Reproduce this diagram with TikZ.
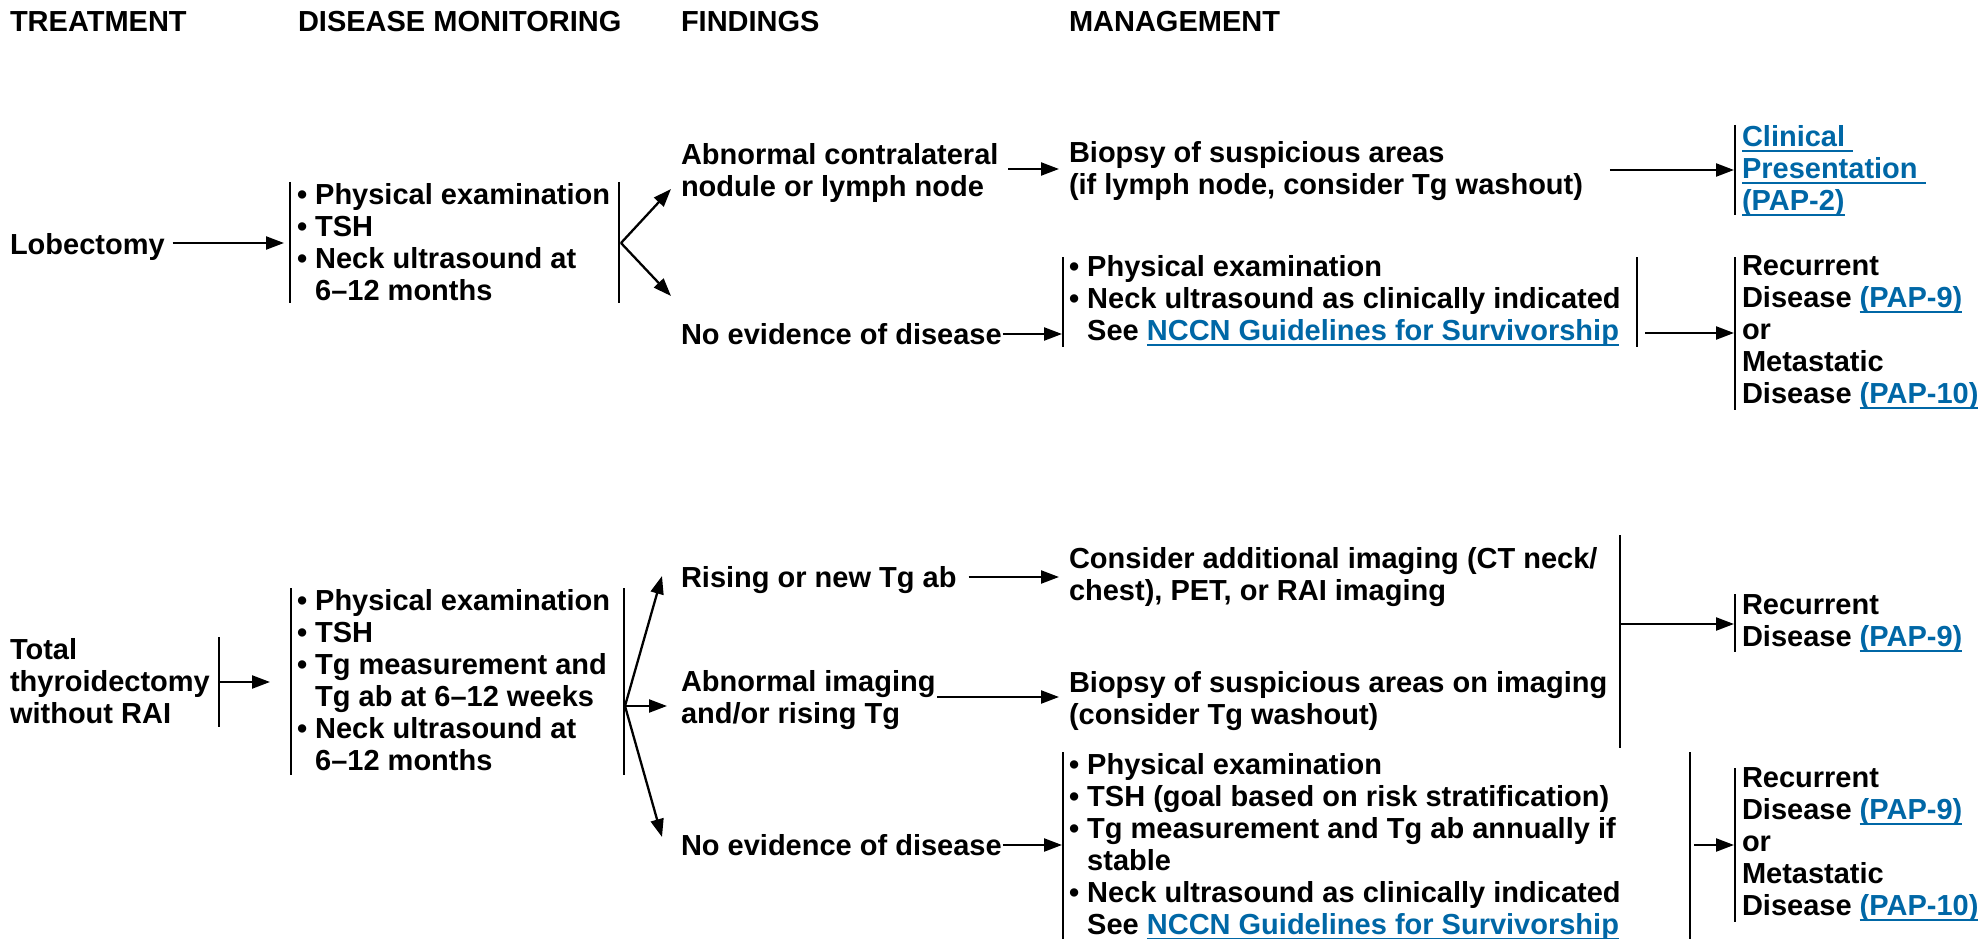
\documentclass[tikz,border=0pt]{standalone}
\usepackage{fontspec}
\setmainfont{Liberation Sans}
\usetikzlibrary{arrows.meta}
\definecolor{linkblue}{RGB}{0,103,166}
% underlined cross-reference in link colour
\newcommand\ulk[1]{{\color{linkblue}\setbox0\hbox{#1}\rlap{\rule[-5pt]{\wd0}{2pt}}\box0}}
\newcommand\bul{\textbullet\ }
\newcommand\bulind{\phantom{\textbullet\ }}
\begin{document}
\begin{tikzpicture}[x=1pt,y=-1pt,line width=2.3pt,
  txt/.style={anchor=north west,inner sep=0pt,outer sep=0pt,align=left,
    font=\fontsize{29}{32}\selectfont\bfseries,execute at begin node=\strut,yshift=22.4pt},
  arr/.style={-{Triangle[length=18pt,width=13pt]}}]
\useasboundingbox (0,0) rectangle (1982,939);

% column headings
\node[txt] (hTreat) at (10,32) {TREATMENT};
\node[txt] (hMon)   at (298,32) {DISEASE MONITORING};
\node[txt] (hFind)  at (681,32) {FINDINGS};
\node[txt] (hMgmt)  at (1069,32) {MANAGEMENT};

% ---------- lobectomy branch ----------
\node[txt] (lob) at (10,254) {Lobectomy};
\node[txt] (mon1) at (297,206) {\bul Physical examination\\\bul TSH\\\bul Neck ultrasound at\\\bulind 6--12 months};
\node[txt] (abn) at (681,166) {Abnormal contralateral\\nodule or lymph node};
\node[txt] (bx1) at (1069,164) {Biopsy of suspicious areas\\(if lymph node, consider Tg washout)};
\node[txt] (clin) at (1742,148) {\ulk{Clinical\ }\\\ulk{Presentation\ }\\\ulk{(PAP-2)}};
\node[txt] (ned1) at (681,344) {No evidence of disease};
\node[txt] (fu1) at (1069,278) {\bul Physical examination\\\bul Neck ultrasound as clinically indicated\\\bulind See \ulk{NCCN Guidelines for Survivorship}};
\node[txt] (rec1) at (1742,278) {Recurrent\\Disease \ulk{(PAP-9)}\\or\\Metastatic\\Disease \ulk{(PAP-10)}};

% brackets
\coordinate (m1a) at (290,182); \coordinate (m1b) at (290,303);
\coordinate (m1c) at (619,182); \coordinate (m1d) at (619,303);
\draw (m1a) -- (m1b); \draw (m1c) -- (m1d);
\coordinate (clA) at (1735,125); \coordinate (clB) at (1735,215);
\draw (clA) -- (clB);
\coordinate (f1a) at (1063,257); \coordinate (f1b) at (1063,347);
\coordinate (f1c) at (1637,257); \coordinate (f1d) at (1637,347);
\draw (f1a) -- (f1b); \draw (f1c) -- (f1d);
\coordinate (r1a) at (1735,257); \coordinate (r1b) at (1735,410);
\draw (r1a) -- (r1b);

% connectors
\coordinate (m1in) at (284,243);
\draw[arr,shorten <=8pt] (lob.east |- m1in) -- (m1in);
\coordinate (fan1) at (621,243);
\coordinate (abnIn) at (671,189);
\coordinate (ned1In) at (671,296);
\draw[arr] (fan1) -- (abnIn);
\draw[arr] (fan1) -- (ned1In);
\coordinate (bx1In) at (1059,169);
\draw[arr,shorten <=10pt] (abn.east |- bx1In) -- (bx1In);
\coordinate (clIn) at (1734,170);
\draw[arr,shorten <=27pt] (bx1.east |- clIn) -- (clIn);
\coordinate (fu1In) at (1062,334);
\draw[arr,shorten <=1pt] (ned1.east |- fu1In) -- (fu1In);
\coordinate (r1In) at (1734,333);
\draw[arr] (f1c |- r1In) ++(8,0) -- (r1In);

% ---------- total thyroidectomy branch ----------
\node[txt] (tot) at (10,661) {Total\\thyroidectomy\\without RAI};
\node[txt] (mon2) at (297,612) {\bul Physical examination\\\bul TSH\\\bul Tg measurement and\\\bulind Tg ab at 6--12 weeks\\\bul Neck ultrasound at\\\bulind 6--12 months};
\node[txt] (rise) at (681,587) {Rising or new Tg ab};
\node[txt] (cons) at (1069,570) {Consider additional imaging (CT neck/\\chest), PET, or RAI imaging};
\node[txt] (abim) at (681,693) {Abnormal imaging\\and/or rising Tg};
\node[txt] (bx2) at (1069,694) {Biopsy of suspicious areas on imaging\\(consider Tg washout)};
\node[txt] (rec2) at (1742,617) {Recurrent\\Disease \ulk{(PAP-9)}};
\node[txt] (ned2) at (681,855) {No evidence of disease};
\node[txt] (fu2) at (1069,776) {\bul Physical examination\\\bul TSH (goal based on risk stratification)\\\bul Tg measurement and Tg ab annually if\\\bulind stable\\\bul Neck ultrasound as clinically indicated\\\bulind See \ulk{NCCN Guidelines for Survivorship}};
\node[txt] (rec3) at (1742,790) {Recurrent\\Disease \ulk{(PAP-9)}\\or\\Metastatic\\Disease \ulk{(PAP-10)}};

% brackets
\coordinate (tA) at (219,637); \coordinate (tB) at (219,727);
\draw (tA) -- (tB);
\coordinate (m2a) at (291,588); \coordinate (m2b) at (291,775);
\coordinate (m2c) at (624,588); \coordinate (m2d) at (624,775);
\draw (m2a) -- (m2b); \draw (m2c) -- (m2d);
\coordinate (bigA) at (1620,535); \coordinate (bigB) at (1620,748);
\draw (bigA) -- (bigB);
\coordinate (r2a) at (1735,594); \coordinate (r2b) at (1735,652);
\draw (r2a) -- (r2b);
\coordinate (f2a) at (1063,752); \coordinate (f2b) at (1063,939);
\coordinate (f2c) at (1690,752); \coordinate (f2d) at (1690,939);
\draw (f2a) -- (f2b); \draw (f2c) -- (f2d);
\coordinate (r3a) at (1735,768); \coordinate (r3b) at (1735,922);
\draw (r3a) -- (r3b);

% connectors
\coordinate (totOut) at (220,682);
\coordinate (m2in) at (270,682);
\draw[arr] (totOut) -- (m2in);
\coordinate (fan2) at (625,706);
\coordinate (riseIn) at (662,576);
\coordinate (abimIn) at (667,706);
\coordinate (ned2In) at (662,837);
\draw[arr] (fan2) -- (riseIn);
\draw[arr] (fan2) -- (abimIn);
\draw[arr] (fan2) -- (ned2In);
\coordinate (consIn) at (1059,577);
\draw[arr,shorten <=12pt] (rise.east |- consIn) -- (consIn);
\coordinate (bx2In) at (1059,697);
\coordinate (abimOut) at (937,697);
\draw[arr] (abimOut) -- (bx2In);
\coordinate (r2In) at (1734,624);
\draw[arr] (bigA |- r2In) -- (r2In);
\coordinate (fu2In) at (1062,845);
\draw[arr,shorten <=1pt] (ned2.east |- fu2In) -- (fu2In);
\coordinate (r3In) at (1734,845);
\draw[arr,shorten <=4pt] (f2c |- r3In) -- (r3In);
\end{tikzpicture}
\end{document}
